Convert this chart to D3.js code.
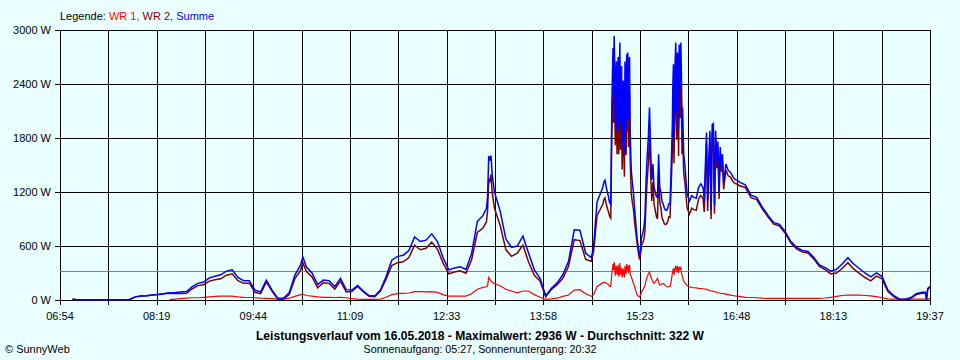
<!DOCTYPE html>
<html><head><meta charset="utf-8">
<script src="https://cdn.jsdelivr.net/npm/d3@7"></script>
<style>
html,body{margin:0;padding:0;background:#eaffff;}
svg{display:block;font-family:"Liberation Sans",Arial,sans-serif;}
</style></head><body>
<svg id="c" width="960" height="360"></svg>
<script>
// ---------- DATA ----------
const times = [
"07:05","07:08","07:10","07:15","07:20","07:25","07:30","07:35","07:40","07:45","07:50","07:55",
"08:00","08:05","08:10","08:15","08:20","08:25","08:30","08:35","08:40","08:45","08:50","08:55",
"09:00","09:05","09:10","09:15","09:20","09:25","09:30","09:35","09:40","09:45","09:50","09:55",
"10:00","10:05","10:10","10:15","10:20","10:25","10:27","10:30","10:35","10:40","10:45","10:50","10:55",
"11:00","11:05","11:10","11:15","11:20","11:25","11:30","11:35","11:40","11:45","11:50","11:55",
"12:00","12:05","12:10","12:15","12:20","12:25","12:30","12:35","12:40","12:45","12:50","12:55",
"13:00","13:05","13:08","13:09","13:10","13:11","13:12","13:13","13:15","13:20","13:25","13:30","13:35","13:40","13:45","13:50","13:55",
"14:00","14:05","14:10","14:15","14:20","14:25","14:30","14:35","14:40","14:42","14:45","14:50",
"14:51","14:52","14:53","14:54","14:55","14:56","14:57","14:58","14:58:30","14:59","14:59:30",
"15:00","15:00:30","15:01","15:01:30","15:02","15:02:30","15:03","15:03:30","15:04","15:04:30","15:05","15:05:30","15:06","15:06:30","15:07","15:07:30","15:08","15:08:30","15:09","15:09:30",
"15:10","15:10:30","15:11","15:11:30","15:12","15:12:30","15:13","15:13:30","15:14","15:15","15:16","15:17","15:18","15:19",
"15:20","15:21","15:22","15:23","15:24","15:25","15:26","15:27","15:28","15:29",
"15:30","15:31","15:32","15:33","15:34","15:35","15:36","15:37","15:38","15:39",
"15:40","15:41","15:42","15:43","15:44","15:45","15:46","15:47","15:48","15:49",
"15:50","15:51","15:51:30","15:52","15:52:30","15:53","15:53:30","15:54","15:54:30","15:55","15:55:30","15:56","15:56:30","15:57","15:57:30","15:58","15:58:30","15:59","15:59:30",
"16:00","16:01","16:02","16:04","16:06","16:08","16:10","16:12","16:14","16:16","16:18",
"16:19","16:20","16:21","16:22","16:23","16:24","16:25","16:26","16:27","16:28","16:29","16:30","16:31","16:32","16:33","16:34","16:35","16:36",
"16:38","16:40","16:42","16:44","16:46","16:48","16:50","16:55",
"17:00","17:05","17:10","17:15","17:20","17:25","17:30","17:35","17:40","17:45","17:50","17:55",
"18:00","18:05","18:10","18:15","18:20","18:25","18:30","18:35","18:40","18:45","18:50","18:55",
"19:00","19:05","19:10","19:15","19:20","19:25","19:30","19:33","19:34","19:35","19:37"
];
const wr1 = [
null,null,null,null,null,null,null,null,null,null,null,null,
null,null,null,null,null,null,5,10,15,20,25,25,
30,35,40,44,44,44,35,30,28,25,20,18,
15,10,10,20,40,60,66,50,44,35,30,30,28,
30,25,15,10,8,8,8,10,30,60,70,74,
78,92,92,90,92,85,60,44,44,44,44,70,
120,140,147,160,250,230,210,200,180,159,120,100,80,100,100,60,30,
8,12,20,40,55,110,115,70,40,60,150,190,
195,196,190,180,170,150,150,300,350,400,330,
420,380,270,350,380,280,330,390,260,340,410,280,300,360,250,300,350,280,250,380,
330,290,400,330,380,300,370,390,290,258,220,180,147,100,
60,45,37,50,90,110,130,160,220,260,
290,313,260,230,200,185,200,220,240,200,
166,170,180,185,175,160,150,147,147,150,
200,295,330,350,280,330,360,380,330,320,370,360,300,370,340,340,370,300,280,
250,210,190,160,147,140,136,134,130,128,125,
122,120,118,111,110,105,100,98,95,92,90,85,80,78,75,74,72,70,
65,60,55,50,45,44,40,30,
28,25,20,18,18,18,18,18,18,18,18,18,
18,22,30,40,50,55,55,55,50,45,37,25,
12,10,10,8,10,10,10,10,10,10,12
];
const wr2 = [
12,3,3,2,3,3,3,3,3,3,4,5,
35,45,48,55,62,70,75,72,73,75,125,160,
170,210,225,236,276,291,215,185,187,85,70,202,
95,10,10,60,237,330,414,319,256,135,191,185,122,
210,90,95,150,92,42,37,100,230,383,415,424,
472,608,558,575,643,565,410,291,311,325,296,447,
750,800,868,990,1350,1320,1395,1200,1020,831,560,485,520,610,420,275,210,
37,118,170,240,375,670,660,450,430,540,940,1060,
1115,1134,1070,1020,980,930,910,1880,2150,2400,1970,
2516,2220,1720,2100,2270,1620,1970,2310,1620,2060,2450,1670,1880,2240,1450,1800,2090,1620,1370,2270,
2020,1610,2330,1870,2370,1700,2180,2310,1590,1182,1080,1000,853,750,
640,555,463,490,610,630,670,760,1110,1340,
1520,1827,1400,1100,1310,1065,1000,930,900,1420,
1084,1030,910,885,845,840,846,873,923,920,
1280,1625,2070,2270,1520,2030,2290,2480,1970,1780,2380,2260,1600,2470,2060,2020,2490,2180,1620,
1890,1410,1310,1020,953,1020,1004,996,1120,1162,1125,
978,1380,1742,989,1440,1775,900,1852,1865,958,1790,1465,1680,1122,1625,1426,1548,1230,
1445,1380,1365,1320,1295,1286,1270,1250,
1137,1115,1010,922,842,822,742,632,567,532,522,457,
372,338,290,300,350,415,345,295,250,213,265,235,
98,40,2,0,15,60,75,75,0,120,138
];
const summe = [
12,3,3,2,3,3,3,3,3,3,4,5,
35,45,48,55,62,70,80,82,88,95,150,185,
200,245,265,280,320,335,250,215,215,110,90,220,
110,20,20,80,277,390,480,369,300,170,221,215,150,
240,115,110,160,100,50,45,110,260,443,485,498,
550,700,650,665,735,650,470,335,355,369,340,517,
870,940,1015,1150,1600,1550,1605,1400,1200,990,680,585,600,710,520,335,240,
45,130,190,280,430,780,775,520,470,600,1090,1250,
1310,1330,1260,1200,1150,1080,1060,2180,2500,2800,2300,
2936,2600,1990,2450,2650,1900,2300,2700,1880,2400,2860,1950,2180,2600,1700,2100,2440,1900,1620,2650,
2350,1900,2730,2200,2750,2000,2550,2700,1880,1440,1300,1180,1000,850,
700,600,500,540,700,740,800,920,1330,1600,
1810,2140,1660,1330,1510,1250,1200,1150,1140,1620,
1250,1200,1090,1070,1020,1000,996,1020,1070,1070,
1480,1920,2400,2620,1800,2360,2650,2860,2300,2100,2750,2620,1900,2840,2400,2360,2860,2480,1900,
2140,1620,1500,1180,1100,1160,1140,1130,1250,1290,1250,
1100,1500,1860,1100,1550,1880,1000,1950,1960,1050,1880,1550,1760,1200,1700,1500,1620,1300,
1510,1440,1420,1370,1340,1330,1310,1280,
1165,1140,1030,940,860,840,760,650,585,550,540,475,
390,360,320,340,400,470,400,350,300,258,302,260,
110,50,12,8,25,70,85,85,10,130,150
];
const xTickLabels = ["06:54","08:19","09:44","11:09","12:33","13:58","15:23","16:48","18:13","19:37"];
const yTickValues = [0,600,1200,1800,2400,3000];
const average = 322;
const seriesNames = ["WR 1","WR 2","Summe"];
const titleText = "Leistungsverlauf vom 16.05.2018 - Maximalwert: 2936 W - Durchschnitt: 322 W";
const subtitleText = "Sonnenaufgang: 05:27, Sonnenuntergang: 20:32";
const creditText = "\u00A9 SunnyWeb";

// ---------- CHART ----------
const toMin = s => { const p = s.split(":").map(Number); return p[0]*60 + p[1] + (p[2] || 0)/60; };
const tStart = toMin(xTickLabels[0]), tEnd = toMin(xTickLabels[xTickLabels.length-1]);
const L = 60, R = 930, T = 30, B = 300;
const x = d3.scaleLinear().domain([tStart, tEnd]).range([L, R]);
const y = d3.scaleLinear().domain([0, 3000]).range([B, T]);
const svg = d3.select("#c");
const colors = {wr1:"#ff0000", wr2:"#800000", summe:"#0000ff"};

const nGrid = (xTickLabels.length-1)*2;
const gridT = d3.range(nGrid+1).map(k => tStart + k*(tEnd-tStart)/nGrid);

const g = svg.append("g").attr("shape-rendering","crispEdges");
g.selectAll("line.v").data(gridT).join("line")
  .attr("x1", d => Math.round(x(d))+0.5).attr("x2", d => Math.round(x(d))+0.5)
  .attr("y1", T).attr("y2", B+5).attr("stroke","#000").attr("stroke-width",1);
g.selectAll("line.h").data(yTickValues).join("line")
  .attr("x1", L-5).attr("x2", R+1)
  .attr("y1", d => Math.round(y(d))+0.5).attr("y2", d => Math.round(y(d))+0.5)
  .attr("stroke","#000").attr("stroke-width",1);
g.append("line").attr("x1",L).attr("x2",R)
  .attr("y1",Math.round(y(average))+0.5).attr("y2",Math.round(y(average))+0.5)
  .attr("stroke","#808080").attr("stroke-width",1.5);

svg.selectAll("text.yl").data(yTickValues).join("text")
  .attr("x", 51).attr("y", d => y(d)+4)
  .attr("text-anchor","end").attr("font-size",11).attr("fill","#000")
  .text(d => d + " W");
svg.selectAll("text.xl").data(xTickLabels).join("text")
  .attr("x", (d,i) => x(gridT[i*2])).attr("y", 320)
  .attr("text-anchor","middle").attr("font-size",11).attr("fill","#000")
  .text(d => d);

const rows = times.map((t,i) => ({t: toMin(t), a: wr1[i], b: wr2[i], s: summe[i]}));
const mk = key => d3.line().defined(d => d[key] !== null).x(d => x(d.t)).y(d => y(d[key]));
const dg = svg.append("g").attr("fill","none").attr("stroke-linejoin","miter");
dg.append("path").datum(rows).attr("d", mk("a")).attr("stroke",colors.wr1).attr("stroke-width",1.2);
dg.append("path").datum(rows).attr("d", mk("b")).attr("stroke",colors.wr2).attr("stroke-width",1.5);
dg.append("path").datum(rows).attr("d", mk("s")).attr("stroke",colors.summe).attr("stroke-width",1.5);

const lg = svg.append("text").attr("x",60).attr("y",20).attr("font-size",11);
lg.append("tspan").attr("fill","#000").text("Legende: ");
lg.append("tspan").attr("fill",colors.wr1).text(seriesNames[0] + ", ");
lg.append("tspan").attr("fill",colors.wr2).text(seriesNames[1] + ", ");
lg.append("tspan").attr("fill",colors.summe).text(seriesNames[2]);

svg.append("text").attr("x",480).attr("y",340).attr("text-anchor","middle")
  .attr("font-size",12).attr("font-weight","bold").attr("fill","#000")
  .attr("textLength",448).attr("lengthAdjust","spacingAndGlyphs").text(titleText);
svg.append("text").attr("x",480).attr("y",353).attr("text-anchor","middle")
  .attr("font-size",11).attr("fill","#000")
  .attr("textLength",233).attr("lengthAdjust","spacingAndGlyphs").text(subtitleText);
svg.append("text").attr("x",5).attr("y",353).attr("font-size",11).attr("fill","#000").text(creditText);
</script>
</body></html>
